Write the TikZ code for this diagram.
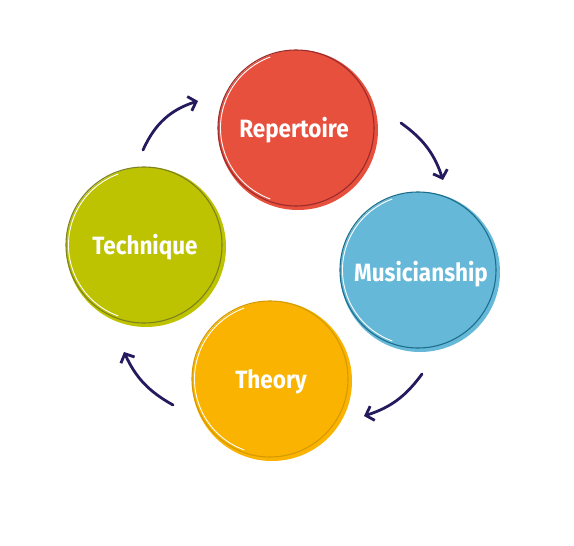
\documentclass[tikz,border=0pt]{standalone}
\usepackage{fontspec}
\newfontfamily\labfont{Fira Sans}[FakeStretch=0.9]
\usetikzlibrary{arrows.meta}
\definecolor{redF}{HTML}{E8503E}
\definecolor{redD}{HTML}{9A2B2B}
\definecolor{bluF}{HTML}{66B8D8}
\definecolor{bluD}{HTML}{1C6E8B}
\definecolor{orgF}{HTML}{F9B300}
\definecolor{orgD}{HTML}{D69A00}
\definecolor{olvF}{HTML}{BDC300}
\definecolor{olvD}{HTML}{7C8220}
\definecolor{navy}{HTML}{241B5E}
\tikzset{
  lab/.style={text=white,font=\labfont\bfseries\fontsize{25}{29}\selectfont,inner sep=0pt},
  cyc/.style={draw=navy,line width=2.8pt,line cap=round,line join=round,
    -{Straight Barb[length=7pt,width=15pt,line width=2.8pt]}}
}
\newcommand{\blob}[5]{% x y fill dark name
  \fill[#3] (#1,#2) circle (80);
  \draw[#4,line width=1.1pt] (#1-2,#2-2) circle (78);
  \draw[white,line width=0.9pt] ([shift={(#1-2,#2-2)}]110:75.5) arc (110:250:75.5);
}
\begin{document}
\begin{tikzpicture}[x=1pt,y=-1pt]
\useasboundingbox (0,0) rectangle (574,546);
\blob{298}{130}{redF}{redD}{rep}
\blob{420}{272}{bluF}{bluD}{mus}
\blob{272}{381}{orgF}{orgD}{the}
\blob{146}{247}{olvF}{olvD}{tec}
\node[lab] (rep) at (294,130) {Repertoire};
\node[lab] (mus) at (421,274) {Musicianship};
\node[lab] (the) at (271,382) {Theory};
\node[lab] (tec) at (145,247) {Technique};
\coordinate (a1s) at (143,150); \coordinate (a1e) at (198,101);
\coordinate (a2s) at (401,123); \coordinate (a2e) at (443,180);
\coordinate (a3s) at (422,374); \coordinate (a3e) at (364,416);
\coordinate (a4s) at (173,405); \coordinate (a4e) at (124,352);
\draw[cyc] (a1s) to[bend left=24] (a1e);
\draw[cyc] (a2s) to[bend left=18] (a2e);
\draw[cyc] (a3s) to[bend left=18] (a3e);
\draw[cyc] (a4s) to[bend left=18] (a4e);
\end{tikzpicture}
\end{document}
